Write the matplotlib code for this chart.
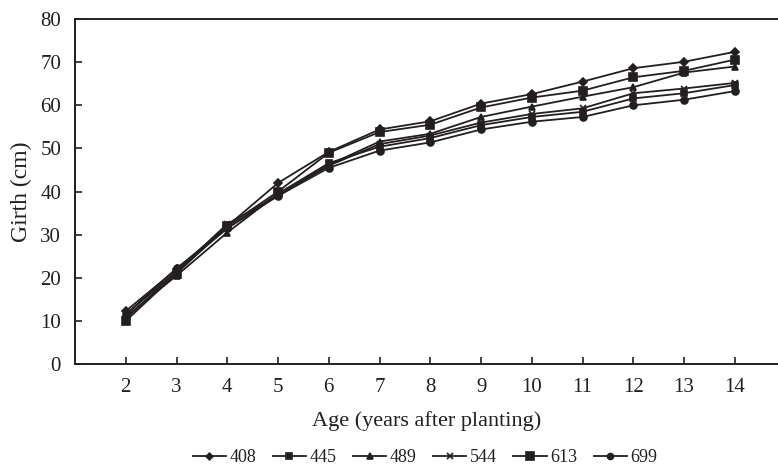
import matplotlib.pyplot as plt
import numpy as np

plt.rcParams['font.family'] = ['Liberation Serif', 'DejaVu Serif']

ages = [2, 3, 4, 5, 6, 7, 8, 9, 10, 11, 12, 13, 14]
clones = ['408', '445', '489', '544', '613', '699']

g408 = [12.3, 22.0, 32.0, 42.0, 49.2, 54.4, 56.3, 60.4, 62.6, 65.5, 68.6, 70.1, 72.4]
g445 = [10.5, 21.5, 31.5, 39.5, 46.6, 50.4, 52.4, 55.4, 57.3, 58.5, 61.6, 62.8, 64.7]
g489 = [11.0, 20.5, 30.5, 39.5, 46.2, 51.6, 53.4, 57.3, 59.7, 62.0, 64.2, 67.6, 69.0]
g544 = [11.5, 21.5, 32.5, 39.0, 46.0, 51.0, 53.0, 56.0, 58.0, 59.3, 62.8, 63.9, 65.2]
g613 = [10.0, 21.0, 32.0, 40.0, 49.0, 53.8, 55.5, 59.5, 61.8, 63.4, 66.5, 68.0, 70.6]
g699 = [11.5, 22.2, 31.5, 39.0, 45.5, 49.5, 51.4, 54.4, 56.2, 57.3, 60.0, 61.3, 63.3]

series = [g408, g445, g489, g544, g613, g699]
markers = ['D', 's', '^', 'x', 's', 'o']
msizes = [4, 5, 5, 5, 6, 5]
col = '#231f20'

fig = plt.figure(figsize=(7.78, 4.65), dpi=100)
ax = fig.add_axes([0.0964, 0.217, 0.9036, 0.742])

for name, vals, m, ms in zip(clones, series, markers, msizes):
    ax.plot(ages, vals, color=col, lw=1.3, marker=m, ms=ms,
            mew=1.2, mfc=col, mec=col, label=name)

ax.set_xlim(1, 14.85)
ax.set_ylim(0, 80)
ax.set_xticks(ages)
ax.set_yticks(np.arange(0, 81, 10))
ax.tick_params(direction='in', length=5, width=1.2, colors=col,
               labelsize=15, pad=10)
ax.tick_params(axis='y', pad=10)
for s in ['left', 'bottom', 'top']:
    ax.spines[s].set_color(col)
    ax.spines[s].set_linewidth(1.4)
ax.spines['right'].set_visible(False)

ax.set_xlabel('Age (years after planting)', fontsize=16, color=col, labelpad=10)
ax.set_ylabel('Girth (cm)', fontsize=17, color=col, labelpad=6)

ax.legend(loc='center', bbox_to_anchor=(0.498, -0.272), ncol=6,
          frameon=False, fontsize=13, handlelength=1.85, columnspacing=0.9,
          handletextpad=0.2, labelcolor=col, markerscale=0.85)

fig.savefig('out.png', dpi=100)
